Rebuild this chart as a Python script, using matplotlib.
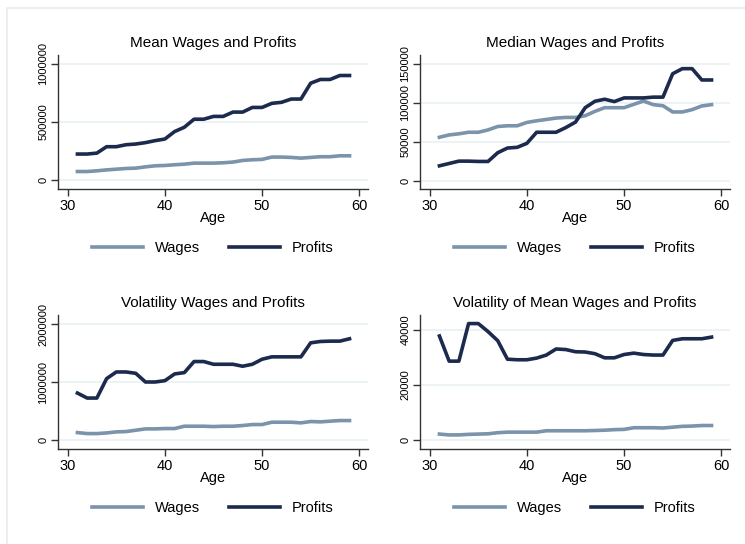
import matplotlib
matplotlib.use('Agg')
import matplotlib.pyplot as plt
from matplotlib.patches import Rectangle

plt.rcParams['font.family'] = ['Liberation Sans', 'DejaVu Sans']

age = list(range(31, 60))

mean_wages = [75000, 75000, 81000, 89000, 95000, 101000, 104000, 115000, 124000, 127000,
              133000, 138000, 147000, 147000, 147000, 150000, 156000, 170000, 176000, 179000,
              199000, 199000, 196000, 190000, 196000, 202000, 202000, 210000, 210000]
mean_profits = [225000, 225000, 233000, 288000, 288000, 305000, 311000, 323000, 340000, 354000,
                418000, 455000, 524000, 524000, 548000, 548000, 585000, 585000, 625000, 625000,
                660000, 669000, 697000, 697000, 833000, 865000, 865000, 899000, 899000]

median_wages = [55600, 58600, 60000, 62000, 62000, 65000, 69400, 70300, 70300, 74600,
                76700, 78400, 80200, 81000, 81000, 83200, 88800, 93500, 93500, 93500,
                97800, 102000, 97400, 96000, 88000, 88000, 91000, 95700, 97400]
median_profits = [19000, 22000, 25000, 25000, 24600, 24600, 35800, 41800, 42700, 47800,
                  62000, 62000, 62000, 68000, 75000, 93500, 101700, 104300, 101300, 106000,
                  106000, 106000, 107000, 107000, 137000, 143500, 143500, 129000, 129000]

vol_wages = [127000, 110000, 110000, 121000, 139000, 145000, 168000, 191000, 191000, 197000,
             197000, 237000, 237000, 237000, 231000, 237000, 237000, 249000, 266000, 266000,
             306000, 306000, 306000, 295000, 318000, 312000, 324000, 335000, 335000]
vol_profits = [809000, 723000, 723000, 1058000, 1173000, 1173000, 1150000, 1000000, 1000000, 1023000,
               1139000, 1162000, 1353000, 1353000, 1306000, 1306000, 1306000, 1272000, 1306000, 1393000,
               1434000, 1434000, 1434000, 1434000, 1676000, 1699000, 1705000, 1705000, 1746000]

volmean_wages = [2200, 1900, 1900, 2100, 2200, 2300, 2700, 2900, 2900, 2900,
                 2900, 3400, 3400, 3400, 3400, 3400, 3500, 3600, 3800, 3900,
                 4500, 4500, 4500, 4400, 4700, 5000, 5100, 5300, 5300]
volmean_profits = [37700, 28600, 28600, 42200, 42200, 39300, 36000, 29300, 29100, 29100,
                   29700, 30800, 33000, 32800, 32000, 31900, 31300, 29800, 29800, 31000,
                   31500, 31000, 30800, 30800, 36100, 36700, 36700, 36700, 37300]

W, H = 745, 544
wage_col = '#7b93ab'
profit_col = '#1c2a4e'
axis_col = '#333333'

fig = plt.figure(figsize=(W / 100, H / 100), dpi=100)
# faint outer frame, only its top and left edges fall inside the picture
fig.patches.append(Rectangle((7 / W, -0.5), 2, 1.5 - 8 / H, transform=fig.transFigure,
                             fill=False, edgecolor='#e6eef0', linewidth=1.2))

panels = [
    ("Mean Wages and Profits", mean_wages, mean_profits, [0, 500000, 1000000], (-75000, 1075000), 58, 55),
    ("Median Wages and Profits", median_wages, median_profits, [0, 50000, 100000, 150000], (-10700, 161000), 420, 55),
    ("Volatility Wages and Profits", vol_wages, vol_profits, [0, 1000000, 2000000], (-156000, 2156000), 58, 315),
    ("Volatility of Mean Wages and Profits", volmean_wages, volmean_profits, [0, 20000, 40000], (-3200, 45300), 420, 315),
]

pw, ph = 310, 134
for title, wages, profits, yt, ylim, left, top in panels:
    ax = fig.add_axes([left / W, (H - top - ph) / H, pw / W, ph / H])
    for yv in yt:
        ax.axhline(yv, color='#eaf2f3', linewidth=1.3, zorder=0)
    ax.plot(age, wages, color=wage_col, linewidth=2.6, label='Wages')
    ax.plot(age, profits, color=profit_col, linewidth=2.6, label='Profits')
    ax.set_xlim(29, 60.9)
    ax.set_ylim(*ylim)
    ax.set_xticks([30, 40, 50, 60])
    ax.set_yticks(yt)
    ax.set_yticklabels([str(v) for v in yt], rotation=90, va='center', fontsize=8)
    ax.tick_params(axis='x', labelsize=10.5, pad=2, length=5, color=axis_col, width=1)
    ax.tick_params(axis='y', pad=2, length=5, color=axis_col, width=1)
    for s in ['top', 'right']:
        ax.spines[s].set_visible(False)
    for s in ['left', 'bottom']:
        ax.spines[s].set_color(axis_col)
        ax.spines[s].set_linewidth(1)
    cx = (left + pw / 2) / W
    fig.text(cx, 1 - (top - 12) / H, title, ha='center', va='center', fontsize=11)
    fig.text(cx, 1 - (top + 163) / H, 'Age', ha='center', va='center', fontsize=10.5)
    ax.legend(loc='center', bbox_to_anchor=(cx, 1 - (top + 193) / H), bbox_transform=fig.transFigure,
              ncol=2, frameon=False, fontsize=10.5, handlelength=3.5, handletextpad=0.8,
              columnspacing=2.0)

fig.savefig('out.png', dpi=100, facecolor='white')
